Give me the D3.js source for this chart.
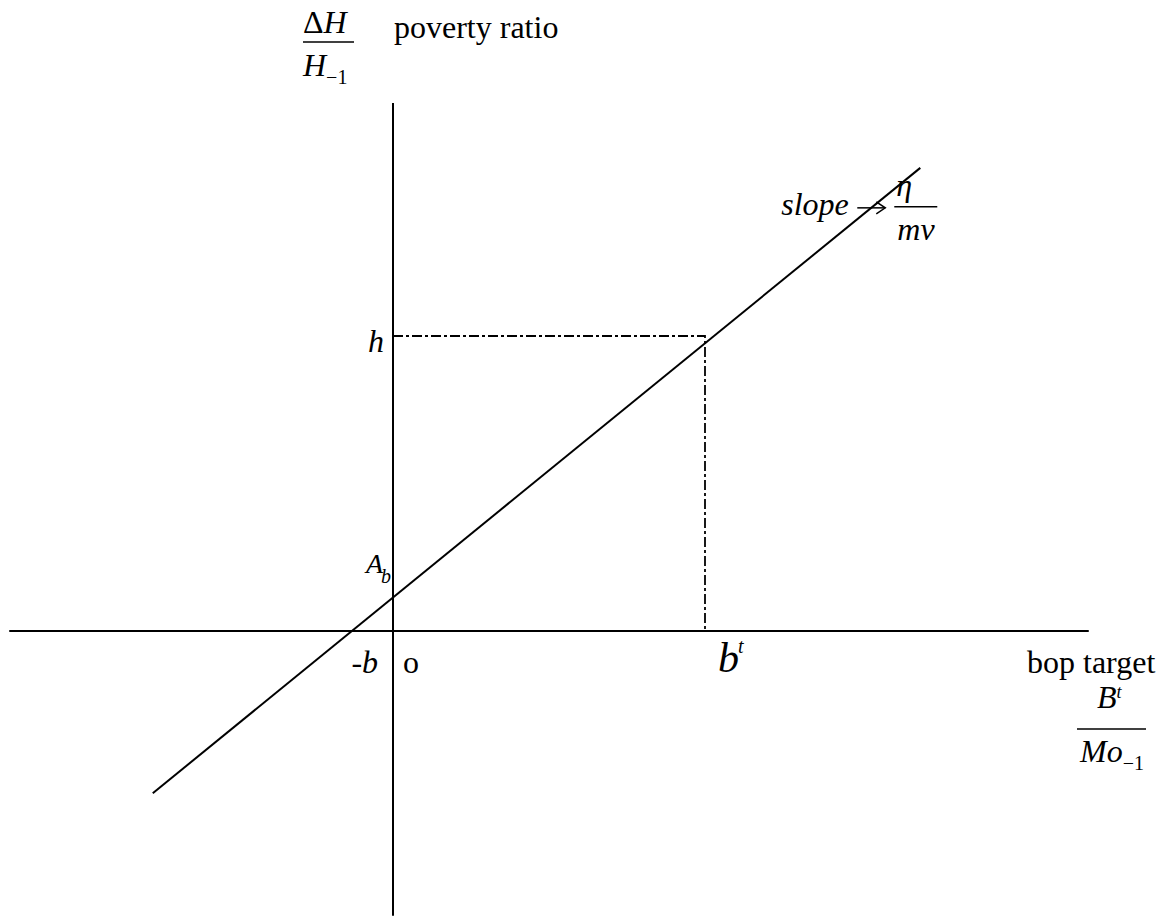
<!DOCTYPE html>
<html>
<head>
<meta charset="utf-8">
<script src="https://cdn.jsdelivr.net/npm/d3@7"></script>
<style>
  body { margin: 0; background: #fff; }
  svg { display: block; }
  text { font-family: "Liberation Serif", "Times New Roman", serif; fill: #000; }
  .it { font-style: italic; }
</style>
</head>
<body>
<div id="chart"></div>
<script>
// Werte (Einheiten: b^t = 1, h = 1)
const axisXExtent = [-1.23, 2.23];   // waagrechte Achse
const axisYExtent = [-0.965, 1.79];  // senkrechte Achse
const lineX = [-0.77, 1.69];         // Gerade, Anfang und Ende
const lineY = [-0.55, 1.57];
const guideX = [0, 1, 1];            // h -> Ecke -> b^t
const guideY = [1, 1, 0];
const interceptX = -0.13;            // -b
const interceptY = 0.112;            // A_b

const width = 1167, height = 918;

const xScale = d3.scaleLinear().domain([0, 1]).range([393, 705]);
const yScale = d3.scaleLinear().domain([0, 1]).range([631, 336]);

const svg = d3.select("#chart")
  .append("svg")
  .attr("width", width)
  .attr("height", height)
  .attr("viewBox", [0, 0, width, height]);

// Achsen
svg.append("line")
  .attr("x1", xScale(axisXExtent[0])).attr("x2", xScale(axisXExtent[1]))
  .attr("y1", yScale(0)).attr("y2", yScale(0))
  .attr("stroke", "#000").attr("stroke-width", 2);

svg.append("line")
  .attr("x1", xScale(0)).attr("x2", xScale(0))
  .attr("y1", yScale(axisYExtent[1])).attr("y2", yScale(axisYExtent[0]))
  .attr("stroke", "#000").attr("stroke-width", 2);

// Strich-Punkt-Linie zu h und b^t
const guide = d3.line()
  .x(d => xScale(d[0]))
  .y(d => yScale(d[1]));

svg.append("path")
  .attr("d", guide(d3.zip(guideX, guideY)))
  .attr("fill", "none")
  .attr("stroke", "#000")
  .attr("stroke-width", 1.8)
  .attr("stroke-dasharray", "10,3,3,3");

// die Gerade
svg.append("path")
  .attr("d", guide(d3.zip(lineX, lineY)))
  .attr("fill", "none")
  .attr("stroke", "#000")
  .attr("stroke-width", 2);

// Beschriftungen
const fs = 32;
const sub = 20;

// Bruch ΔH / H_-1 oben
const yTop = svg.append("g").attr("transform", `translate(303, 0)`);
yTop.append("text").attr("x", 0).attr("y", 33).attr("font-size", fs)
  .text("Δ").append("tspan").attr("class", "it").text("H");
yTop.append("line").attr("x1", 0).attr("x2", 51).attr("y1", 42).attr("y2", 42)
  .attr("stroke", "#000").attr("stroke-width", 1.5);
const den = yTop.append("text").attr("x", 0).attr("y", 76).attr("font-size", fs);
den.append("tspan").attr("class", "it").text("H");
den.append("tspan").attr("font-size", sub).attr("dy", 8).text("−1");

svg.append("text")
  .attr("x", xScale(0) + 1).attr("y", 38).attr("font-size", fs)
  .text("poverty ratio");

// slope -> η / mv
const slopeG = svg.append("g").attr("transform", `translate(${xScale(lineX[1])}, ${yScale(lineY[1])})`);
slopeG.append("text").attr("class", "it").attr("x", -139).attr("y", 47).attr("font-size", fs).text("slope");
slopeG.append("line").attr("x1", -63).attr("x2", -35).attr("y1", 40).attr("y2", 40)
  .attr("stroke", "#000").attr("stroke-width", 1.5);
slopeG.append("path").attr("d", "M-44,34 L-35,40 L-44,46")
  .attr("fill", "none").attr("stroke", "#000").attr("stroke-width", 1.5);
slopeG.append("text").attr("class", "it").attr("x", -24).attr("y", 28).attr("font-size", fs).text("η");
slopeG.append("line").attr("x1", -26).attr("x2", 17).attr("y1", 39).attr("y2", 39)
  .attr("stroke", "#000").attr("stroke-width", 1.5);
slopeG.append("text").attr("class", "it").attr("x", -23).attr("y", 72).attr("font-size", fs).text("mv");

// h
svg.append("text").attr("class", "it")
  .attr("x", xScale(0) - 25).attr("y", yScale(guideY[0]) + 16)
  .attr("font-size", fs).text("h");

// A_b
const ab = svg.append("text").attr("class", "it")
  .attr("x", xScale(0) - 27).attr("y", yScale(interceptY) - 25)
  .attr("font-size", 28);
ab.append("tspan").text("A");
ab.append("tspan").attr("font-size", sub).attr("dy", 10).attr("dx", -2).text("b");

// -b und o
const nb = svg.append("text").attr("x", xScale(interceptX) - 1).attr("y", yScale(0) + 42).attr("font-size", fs);
nb.append("tspan").text("-");
nb.append("tspan").attr("class", "it").text("b");
svg.append("text").attr("x", xScale(0) + 10).attr("y", yScale(0) + 42).attr("font-size", fs).text("o");

// b^t
const bt = svg.append("text").attr("class", "it")
  .attr("x", xScale(guideX[1]) + 13).attr("y", yScale(0) + 41)
  .attr("font-size", 42);
bt.append("tspan").text("b");
bt.append("tspan").attr("font-size", sub).attr("dy", -19).attr("dx", -1).text("t");

// bop target und B^t / Mo_-1
svg.append("text").attr("x", 1027).attr("y", yScale(0) + 42).attr("font-size", fs).text("bop target");
const bx = svg.append("g").attr("transform", `translate(1077, 0)`);
const bnum = bx.append("text").attr("class", "it").attr("x", 20).attr("y", 708).attr("font-size", fs);
bnum.append("tspan").text("B");
bnum.append("tspan").attr("font-size", 18).attr("dy", -10).text("t");
bx.append("line").attr("x1", 0).attr("x2", 69).attr("y1", 729).attr("y2", 729)
  .attr("stroke", "#000").attr("stroke-width", 1.5);
const bden = bx.append("text").attr("class", "it").attr("x", 3).attr("y", 762).attr("font-size", fs);
bden.append("tspan").text("Mo");
bden.append("tspan").attr("font-style", "normal").attr("font-size", sub).attr("dy", 8).text("−1");
</script>
</body>
</html>
